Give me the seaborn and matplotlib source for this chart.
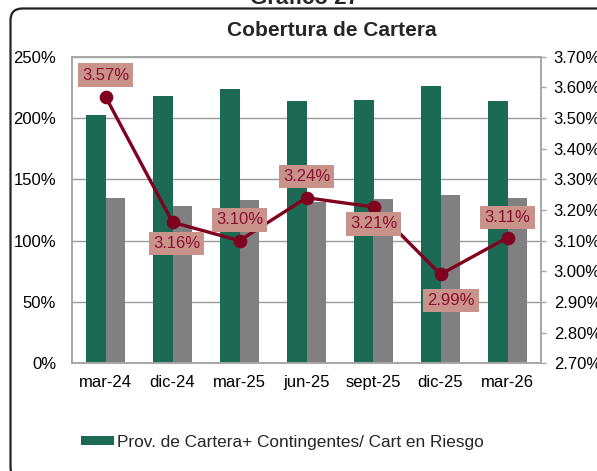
import numpy as np
import pandas as pd
import matplotlib
matplotlib.use("Agg")
import matplotlib.pyplot as plt
import seaborn as sns
from matplotlib.patches import Patch, PathPatch
from matplotlib.path import Path
from matplotlib.ticker import FuncFormatter, MultipleLocator

# ---- data ----
categories = ["mar-24", "dic-24", "mar-25", "jun-25", "sept-25", "dic-25", "mar-26"]
prov_cobertura = [202.5, 218.0, 223.5, 214.0, 215.0, 226.5, 214.0]   # green bars (%)
gray_series = [134.7, 128.2, 133.3, 131.2, 134.1, 137.6, 134.7]      # gray bars (%)
line_values = [3.57, 3.16, 3.10, 3.24, 3.21, 2.99, 3.11]             # right axis (%)
legend_label = "Prov. de Cartera+ Contingentes/ Cart en Riesgo"
series_names = ["Prov", "Gris"]

# label offsets (pixels) for the line data labels
label_offsets = [(0, 21.5), (4, -21), (0, 20.7), (0, 21), (0, -17), (10.5, -26), (0, 20)]

GREEN = "#1C6A53"
GRAY = "#808080"
LINE = "#800020"
BOXFILL = "#C9928A"
TXTRED = "#8A1030"

sns.set_theme(style="white")
plt.rcParams["font.family"] = ["Liberation Sans", "DejaVu Sans"]
plt.rcParams["savefig.bbox"] = None

W, H = 597, 471
fig = plt.figure(figsize=(W / 100, H / 100), dpi=100)
ax = fig.add_axes([72 / W, 1 - 363.3 / H, (541 - 72) / W, (363.3 - 56.7) / H])

df = pd.DataFrame({
    "cat": categories * 2,
    "serie": [series_names[0]] * len(categories) + [series_names[1]] * len(categories),
    "valor": prov_cobertura + gray_series,
})
sns.barplot(data=df, x="cat", y="valor", hue="serie", order=categories,
            hue_order=series_names, palette=[GREEN, GRAY], width=0.58,
            saturation=1, legend=False, ax=ax, linewidth=0)

ax.set_ylim(0, 250)
ax.yaxis.set_major_locator(MultipleLocator(50))
ax.yaxis.set_major_formatter(FuncFormatter(lambda v, p: f"{v:.0f}%"))
ax.set_xlim(-0.5, len(categories) - 0.5)
ax.set_xlabel("")
ax.set_ylabel("")
ax.grid(axis="y", color="#999999", linewidth=1)
ax.set_axisbelow(True)
for s in ax.spines.values():
    s.set_color("#A6A6A6")
    s.set_linewidth(1.2)
ax.tick_params(axis="y", labelsize=12, length=0, pad=11.5, colors="black")
ax.tick_params(axis="x", labelsize=12, length=0, pad=8.5, colors="black")

ax2 = ax.twinx()
sns.pointplot(x=categories, y=line_values, order=categories, color=LINE, ax=ax2,
              markers="o", linestyles="-", markersize=8, linewidth=2.4, errorbar=None)
ax2.set_xlim(-0.5, len(categories) - 0.5)
ax2.set_ylim(2.70, 3.70)
ax2.yaxis.set_major_locator(MultipleLocator(0.10))
ax2.yaxis.set_major_formatter(FuncFormatter(lambda v, p: f"{v:.2f}%"))
ax2.tick_params(axis="y", labelsize=12, length=3.6, width=1, pad=5.5,
                color="#A6A6A6", labelcolor="black")
for s in ax2.spines.values():
    s.set_color("#A6A6A6")
    s.set_linewidth(1.2)
ax2.set_ylabel("")
ax2.grid(False)

for i, (v, off) in enumerate(zip(line_values, label_offsets)):
    ax2.annotate(f"{v:.2f}%", xy=(i, v), xytext=off, textcoords="offset pixels",
                 ha="center", va="center", fontsize=12, color=TXTRED,
                 bbox=dict(boxstyle="square,pad=0.25", fc=BOXFILL, ec="none"))

# titles
fig.text(332 / W, 1 - 31 / H, "Cobertura de Cartera", ha="center", va="center",
         fontsize=15, fontweight="bold")
fig.text(304 / W, 1 - 4 / H, "Gráfico 27", ha="center", va="baseline",
         fontsize=16, fontweight="bold")

# legend
handle = Patch(facecolor=GREEN, edgecolor="none")
fig.legend([handle], [legend_label], loc="center left",
           bbox_to_anchor=(80.5 / W, 1 - 442 / H), frameon=False, fontsize=12.4,
           handlelength=1.95, handleheight=0.45, handletextpad=0.18, borderpad=0,
           borderaxespad=0)

# outer rounded frame: left edge and top edge (right/bottom lie outside the picture)
r = 12
x0, top, bot, xr = 10.5, 8.5, 479.0, 700.0


def fx(px):
    return px / W


def fy(py):
    return 1 - py / H


verts = [
    (fx(xr), fy(top)),
    (fx(x0 + r), fy(top)),
    (fx(x0), fy(top)),
    (fx(x0), fy(top + r)),
    (fx(x0), fy(bot - r)),
    (fx(x0), fy(bot)),
    (fx(x0 + r), fy(bot)),
]
codes = [Path.MOVETO, Path.LINETO, Path.CURVE3, Path.CURVE3, Path.LINETO,
         Path.CURVE3, Path.CURVE3]
frame = PathPatch(Path(verts, codes), transform=fig.transFigure, fill=False,
                  edgecolor="#222222", linewidth=1.6, clip_on=False)
fig.add_artist(frame)

fig.savefig("out.png", dpi=100)
